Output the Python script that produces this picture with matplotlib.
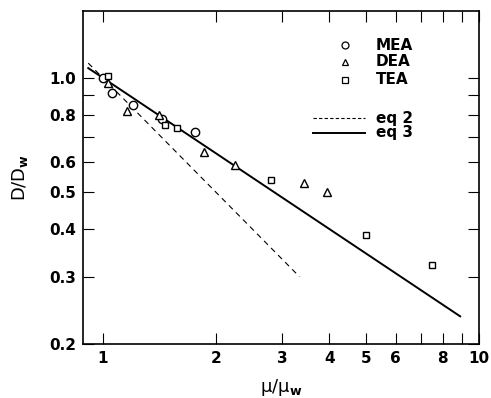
import numpy as np
import matplotlib
matplotlib.use("Agg")
import matplotlib.pyplot as plt
from matplotlib.ticker import FixedLocator, NullFormatter, FixedFormatter

# ── DATA ────────────────────────────────────────────────────────────────────
mea_x = [1.00, 1.06, 1.20, 1.44, 1.76]
mea_y = [1.00, 0.91, 0.85, 0.78, 0.72]

dea_x = [1.03, 1.16, 1.41, 1.86, 2.24, 3.43, 3.93]
dea_y = [0.97, 0.82, 0.80, 0.64, 0.59, 0.53, 0.50]

tea_x = [1.03, 1.46, 1.57, 2.79, 5.01, 7.51]
tea_y = [1.01, 0.75, 0.74, 0.54, 0.386, 0.323]

# eq 2: D/Dw = (mu/mu_w)^-1 ; eq 3: D/Dw = (mu/mu_w)^-0.66
eq2_x = [0.915, 3.33]
eq2_exp = -1.0
eq3_x = [0.915, 8.9]
eq3_exp = -0.66

xticks = [1, 2, 3, 4, 5, 6, 8, 10]
xminor = [7, 9]
yticks = [0.2, 0.3, 0.4, 0.5, 0.6, 0.8, 1.0]
yminor = [0.7, 0.9]

plt.rcParams["font.weight"] = "bold"
plt.rcParams["mathtext.default"] = "bf"

# ── PLOT ────────────────────────────────────────────────────────────────────
fig = plt.figure(figsize=(4.91, 3.98), dpi=100)
ax = fig.add_axes([0.169, 0.136, 0.807, 0.837])

x2 = np.array(eq2_x)
x3 = np.array(eq3_x)
ax.plot(x2, x2 ** eq2_exp, ls=(0, (5, 4)), color="black", lw=0.8, label="eq 2")
ax.plot(x3, x3 ** eq3_exp, ls="-", color="black", lw=1.4, label="eq 3")

mk = dict(ls="none", mfc="white", mec="black", mew=1.0, ms=6)
ax.plot(mea_x, mea_y, marker="o", **mk)
ax.plot(dea_x, dea_y, marker="^", **mk)
ax.plot(tea_x, tea_y, marker="s", **dict(mk, ms=5))

ax.set_xscale("log")
ax.set_yscale("log")
ax.set_xlim(0.886, 10)
ax.set_ylim(0.2, 1.5)

ax.xaxis.set_major_locator(FixedLocator(xticks))
ax.xaxis.set_major_formatter(FixedFormatter([str(t) for t in xticks]))
ax.xaxis.set_minor_locator(FixedLocator(xminor))
ax.xaxis.set_minor_formatter(NullFormatter())
ax.yaxis.set_major_locator(FixedLocator(yticks))
ax.yaxis.set_major_formatter(FixedFormatter([f"{t:.1f}" for t in yticks]))
ax.yaxis.set_minor_locator(FixedLocator(yminor))
ax.yaxis.set_minor_formatter(NullFormatter())

ax.tick_params(which="both", direction="in", top=True, right=True,
               length=8, width=0.8, labelsize=11, pad=5)
for s in ax.spines.values():
    s.set_linewidth(1.2)

# legend drawn by hand, like the original
lx, tx = 345, 376
for yy, m, lab in [(45, "o", "MEA"), (62, "^", "DEA"), (80, "s", "TEA")]:
    fig.lines.append(plt.Line2D([lx / 491], [1 - yy / 398], marker=m, ms=5,
                                mfc="white", mec="black", mew=0.9,
                                transform=fig.transFigure))
    fig.text(tx / 491, 1 - yy / 398, lab, fontsize=11, va="center")
for yy, st, lw, lab in [(118, (0, (3, 2)), 0.8, "eq 2"), (133, "-", 1.4, "eq 3")]:
    fig.lines.append(plt.Line2D([313 / 491, 365 / 491], [1 - yy / 398] * 2,
                                ls=st, lw=lw, color="black",
                                transform=fig.transFigure))
    fig.text(tx / 491, 1 - yy / 398, lab, fontsize=11, va="center")

ax.set_xlabel("μ/μ$_w$", fontsize=13, labelpad=8)
ax.set_ylabel("D/D$_w$", fontsize=13, labelpad=14)

fig.savefig("out.png", dpi=100)
